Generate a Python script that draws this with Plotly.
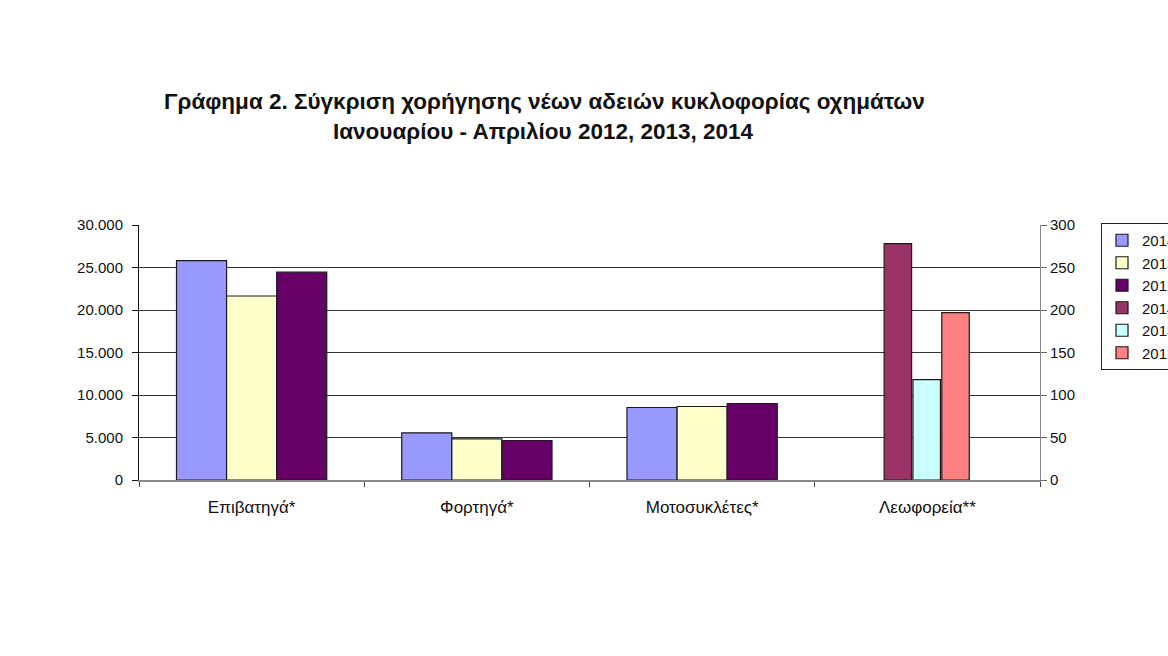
import plotly.graph_objects as go

categories = ["Επιβατηγά*", "Φορτηγά*", "Μοτοσυκλέτες*", "Λεωφορεία**"]
years = ["2014", "2013", "2012"]
# primary axis (first three categories)
v2014 = [25800, 5550, 8530, None]
v2013 = [21650, 4850, 8650, None]
v2012 = [24450, 4650, 9000, None]
# secondary axis (buses)
bus_category = ["Λεωφορεία**"]
bus2014 = [278]
bus2013 = [118]
bus2012 = [197]

left_tickvals = [0, 5000, 10000, 15000, 20000, 25000, 30000]
left_ticktext = ["0", "5.000", "10.000", "15.000", "20.000", "25.000", "30.000"]
right_tickvals = [0, 50, 100, 150, 200, 250, 300]

prim_colors = ["#9999FF", "#FFFFCC", "#660066"]
sec_colors = ["#993366", "#CCFFFF", "#FF8080"]
sec_offsets = [-0.192, -0.064, 0.064]
sec_width = 0.122

FONT = "Liberation Sans, Arial, sans-serif"

PL, PR, PT, PB = 139, 1040, 225, 480
PW, PH = PR - PL, PB - PT

fig = go.Figure()
for i, (yr, vals) in enumerate(zip(years, [v2014, v2013, v2012])):
    fig.add_trace(go.Bar(
        x=categories, y=vals, name=yr,
        marker=dict(color=prim_colors[i], line=dict(color="#1a1a1a", width=1.2)),
        legendgroup="p" + yr, yaxis="y",
    ))
for i, (yr, vals) in enumerate(zip(years, [bus2014, bus2013, bus2012])):
    fig.add_trace(go.Bar(
        x=bus_category, y=vals, name=yr,
        marker=dict(color=sec_colors[i], line=dict(color="#1a1a1a", width=1.2)),
        width=sec_width, offset=sec_offsets[i],
        legendgroup="s" + yr, yaxis="y2",
    ))

fig.update_layout(
    width=1168, height=656,
    paper_bgcolor="white", plot_bgcolor="white",
    margin=dict(l=PL, r=1168 - PR, t=PT, b=656 - PB, autoexpand=False),
    barmode="group", bargap=0.333, bargroupgap=0,
    font=dict(family=FONT, size=13, color="#111"),
    showlegend=True,
    legend=dict(
        x=(1101 - PL) / PW, xref="paper", xanchor="left",
        y=1 + (PT - 223) / PH, yref="paper", yanchor="top",
        bgcolor="white", bordercolor="#222", borderwidth=1,
        font=dict(size=15, family=FONT, color="#111"),
        tracegroupgap=9, traceorder="normal", itemwidth=30,
    ),
    xaxis=dict(
        type="category", showgrid=False, showline=True, linecolor="#888", linewidth=1.5,
        ticks="outside", tickson="boundaries", ticklen=5, tickcolor="#444",
        tickfont=dict(size=17, family=FONT, color="#111"), ticklabelstandoff=11,
        range=[-0.5, 3.5],
    ),
    yaxis=dict(
        range=[0, 30000], tickvals=left_tickvals, ticktext=left_ticktext,
        showgrid=True, gridcolor="#333", gridwidth=1,
        showline=True, linecolor="#111", linewidth=1,
        ticks="outside", ticklen=6, tickcolor="#111",
        tickfont=dict(size=15, family=FONT, color="#111"), zeroline=False,
        ticklabelstandoff=6,
    ),
    yaxis2=dict(
        range=[0, 300], tickvals=right_tickvals, overlaying="y", side="right",
        showgrid=False, showline=True, linecolor="#888", linewidth=1,
        ticks="outside", ticklen=6, tickcolor="#666",
        tickfont=dict(size=15, family=FONT, color="#111"), zeroline=False,
    ),
)

TFONT = dict(size=22.5, family="Liberation Sans, Arial, sans-serif", color="#111")
fig.add_annotation(
    text="<b>Γράφημα 2. Σύγκριση χορήγησης νέων αδειών κυκλοφορίας οχημάτων</b>",
    xref="paper", yref="paper", x=(544 - PL) / PW, y=1 + (PT - 102) / PH,
    showarrow=False, xanchor="center", yanchor="middle", font=TFONT,
)
fig.add_annotation(
    text="<b>Ιανουαρίου - Απριλίου 2012, 2013, 2014</b>",
    xref="paper", yref="paper", x=(543 - PL) / PW, y=1 + (PT - 131) / PH,
    showarrow=False, xanchor="center", yanchor="middle", font=TFONT,
)

fig.write_html("out.html")
